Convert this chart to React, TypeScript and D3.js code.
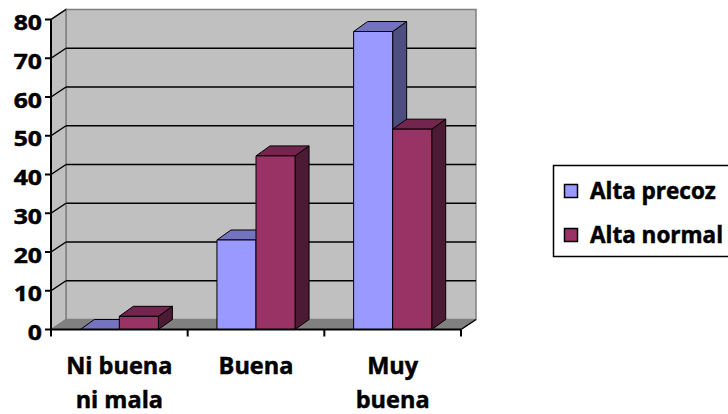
import React from "react";
import * as d3 from "d3";

const categories: string[][] = [["Ni buena", "ni mala"], ["Buena"], ["Muy", "buena"]];
const seriesNames: string[] = ["Alta precoz", "Alta normal"];
const altaPrecoz: number[] = [0, 23.1, 76.9];
const altaNormal: number[] = [3.4, 44.8, 51.7];
const yTicks: number[] = [0, 10, 20, 30, 40, 50, 60, 70, 80];

const W = 728;
const H = 414;
const FONT = "'Open Sans', sans-serif";

const faceColors = [
  { front: "#9999FF", top: "#7373BF", side: "#4D4D80" },
  { front: "#993366", top: "#73264D", side: "#4D1A33" },
];

export default function App() {
  const keys = categories.map((c) => c.join(" "));
  const x0 = d3.scaleBand<string>().domain(keys).range([51, 461]).padding(0);
  const x1 = d3
    .scaleBand<string>()
    .domain(seriesNames)
    .range([0, x0.bandwidth()])
    .paddingInner(0)
    .paddingOuter(0.75);
  const y = d3.scaleLinear().domain([0, 80]).range([329.5, 19.5]);

  const wdx = 15, wdy = -10; // wall depth
  const bdx = 14, bdy = -10; // bar depth
  const left = 51, right = 461;
  const y0 = y(0), yTop = y(80);

  const series = [altaPrecoz, altaNormal];

  const pts = (arr: number[][]) => arr.map((p) => p.join(",")).join(" ");

  const bars: React.ReactNode[] = [];
  keys.forEach((k, ci) => {
    seriesNames.forEach((s, si) => {
      const v = series[si][ci];
      const bx = (x0(k) as number) + (x1(s) as number);
      const bw = x1.bandwidth();
      const by = y(v);
      const c = faceColors[si];
      bars.push(
        <g key={`${ci}-${si}`} stroke="#000" strokeWidth={1} strokeLinejoin="round">
          <polygon
            points={pts([[bx + bw, by], [bx + bw + bdx, by + bdy], [bx + bw + bdx, y0 + bdy], [bx + bw, y0]])}
            fill={c.side}
          />
          <polygon
            points={pts([[bx, by], [bx + bdx, by + bdy], [bx + bw + bdx, by + bdy], [bx + bw, by]])}
            fill={c.top}
          />
          <rect x={bx} y={by} width={bw} height={y0 - by} fill={c.front} />
        </g>
      );
    });
  });

  const txtStroke = { stroke: "#000", strokeWidth: 0.5 };

  return (
    <svg
      width={W}
      height={H}
      style={{ position: "absolute", left: 0, top: 0, background: "#fff" }}
      fontFamily={FONT}
      fontWeight="bold"
    >
      {/* back wall */}
      <rect
        x={left + wdx}
        y={yTop + wdy}
        width={right - left}
        height={y0 - yTop}
        fill="#C0C0C0"
        stroke="#808080"
        strokeWidth={1.5}
      />
      {/* side wall */}
      <polygon
        points={pts([[left, y0], [left, yTop], [left + wdx, yTop + wdy], [left + wdx, y0 + wdy]])}
        fill="#C0C0C0"
        stroke="#808080"
        strokeWidth={1.5}
      />
      {/* floor */}
      <polygon
        points={pts([[left, y0], [right, y0], [right + wdx, y0 + wdy], [left + wdx, y0 + wdy]])}
        fill="#808080"
        stroke="#808080"
        strokeWidth={1}
      />
      {/* gridlines */}
      {yTicks
        .filter((t) => t > 0 && t < 80)
        .map((t) => (
          <line key={t} x1={left + wdx} x2={right + wdx} y1={y(t) + wdy} y2={y(t) + wdy} stroke="#000" strokeWidth={1.5} />
        ))}
      {yTicks
        .filter((t) => t > 0)
        .map((t) => (
          <line key={"d" + t} x1={left} y1={y(t)} x2={left + wdx} y2={y(t) + wdy} stroke="#000" strokeWidth={1.5} />
        ))}
      {/* floor right edge */}
      <line x1={right} y1={y0} x2={right + wdx} y2={y0 + wdy} stroke="#000" strokeWidth={1.5} />
      {bars}
      {/* y axis */}
      <line x1={left} x2={left} y1={yTop} y2={y0} stroke="#000" strokeWidth={2} />
      {yTicks.map((t) => (
        <g key={"t" + t}>
          <line x1={left - 6} x2={left} y1={y(t)} y2={y(t)} stroke="#000" strokeWidth={2} />
          <text
            transform={`translate(42,${y(t) + 10.5}) scale(1.15,1)`}
            textAnchor="end"
            fontSize={21.5}
            fill="#000"
            {...txtStroke}
          >
            {t}
          </text>
        </g>
      ))}
      {/* x axis */}
      <line x1={left} x2={right} y1={y0} y2={y0} stroke="#000" strokeWidth={2} />
      {[...keys.map((k) => x0(k) as number), right].map((xv, i) => (
        <line key={"xt" + i} x1={xv} x2={xv} y1={y0} y2={y0 + 7} stroke="#000" strokeWidth={2} />
      ))}
      {categories.map((lines, ci) => (
        <text
          key={"xl" + ci}
          x={(x0(keys[ci]) as number) + x0.bandwidth() / 2}
          y={374}
          textAnchor="middle"
          fontSize={23.5}
          fill="#000"
          {...txtStroke}
        >
          {lines.map((l, li) => (
            <tspan key={li} x={(x0(keys[ci]) as number) + x0.bandwidth() / 2} y={374 + li * 34}>
              {l}
            </tspan>
          ))}
        </text>
      ))}
      {/* legend */}
      <rect x={553.5} y={165.5} width={200} height={91} fill="#fff" stroke="#000" strokeWidth={1.5} />
      {seriesNames.map((s, i) => (
        <g key={"lg" + i}>
          <rect x={564.5} y={184.5 + i * 44} width={13} height={13} fill={faceColors[i].front} stroke="#000" strokeWidth={1.5} />
          <text x={590} y={199 + i * 44} fontSize={22.5} fill="#000" {...txtStroke}>
            {s}
          </text>
        </g>
      ))}
    </svg>
  );
}
